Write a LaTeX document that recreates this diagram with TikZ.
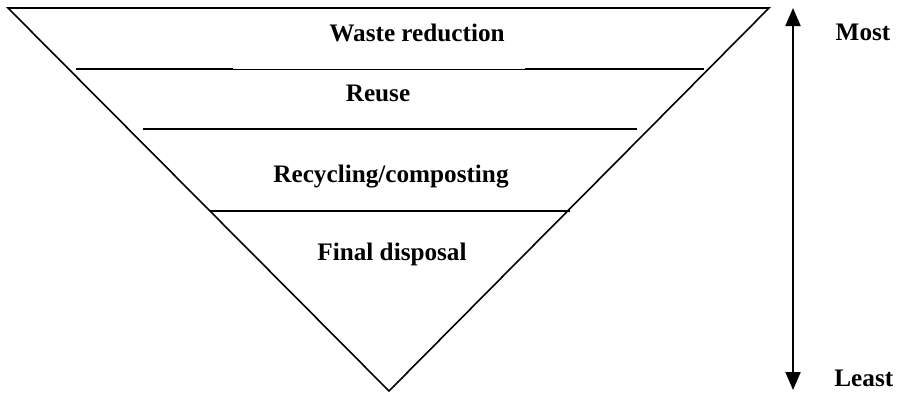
\documentclass[tikz,border=0pt]{standalone}
\usepackage{fontspec}
\setmainfont{Liberation Serif}
\usetikzlibrary{arrows.meta}
\begin{document}
\begin{tikzpicture}[
        x=0.5pt, y=-0.5pt,
        edge/.style={draw=black, line width=0.8pt},
        level/.style={draw=black, line width=0.8pt},
        thinlevel/.style={draw=black, line width=0.5pt},
        arrow/.style={{Triangle[width=7.5pt,length=9pt]}-{Triangle[width=7.5pt,length=9pt]}, line width=1pt},
        label/.style={font=\fontsize{12.6}{14}\selectfont\bfseries, anchor=base, inner sep=0pt}
    ]
        \useasboundingbox (0,0) rectangle (897,392);

        % Triangle
        \coordinate (tl) at (8,8);
        \coordinate (tr) at (769,8);
        \coordinate (apex) at (389,391);
        \draw[edge] (tl) -- (tr) -- (apex) -- cycle;

        % Levels
        \coordinate (l1a) at (76,69);
        \coordinate (l1b) at (233,69);
        \coordinate (l1c) at (525,69);
        \coordinate (l1d) at (704,69);
        \draw[level] (l1a) -- (l1b);
        \draw[thinlevel] (l1b) -- (l1c);
        \draw[level] (l1c) -- (l1d);
        \coordinate (l2a) at (143,129);
        \coordinate (l2b) at (637,129);
        \draw[level] (l2a) -- (l2b);
        \coordinate (l3a) at (210,211);
        \coordinate (l3b) at (570,211);
        \draw[level] (l3a) -- (l3b);

        % Labels
        \node[label] (reduction) at (417,41) {Waste reduction};
        \node[label] (reuse) at (378,101) {Reuse};
        \node[label] (recycling) at (391,182) {Recycling/composting};
        \node[label] (disposal) at (392,260) {Final disposal};

        % Arrow
        \coordinate (top) at (793,8);
        \coordinate (bottom) at (793,390);
        \draw[arrow] (bottom) -- (top);
        \node[label] (most) at (863,40) {Most};
        \node[label, anchor=base west] (least) at (834,386) {Least};
    \end{tikzpicture}
\end{document}
